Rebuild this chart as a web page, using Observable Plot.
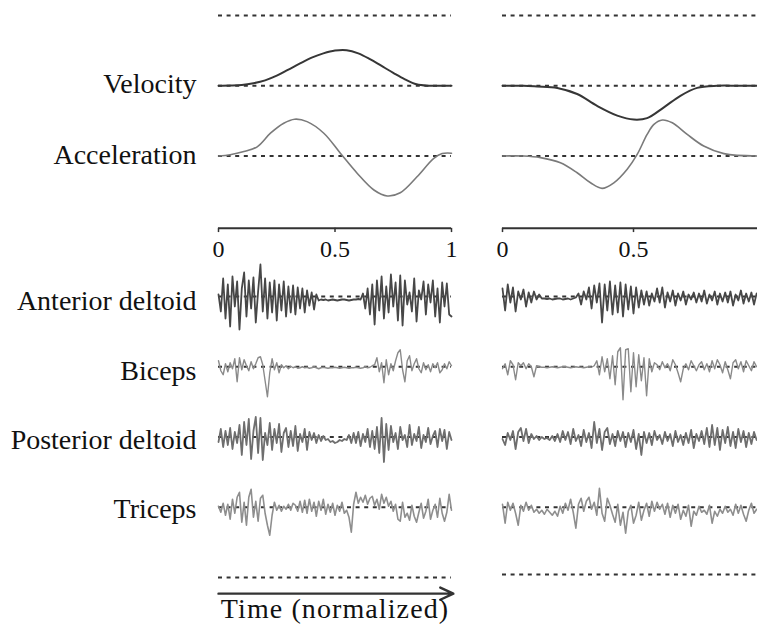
<!DOCTYPE html>
<html><head><meta charset="utf-8">
<script src="https://cdn.jsdelivr.net/npm/d3@7"></script>
<script src="https://cdn.jsdelivr.net/npm/@observablehq/plot@0.6"></script>
<style>
html,body{margin:0;padding:0;background:#fff;}
#wrap{position:relative;width:757px;height:635px;overflow:hidden;background:#fff;}
#left{position:absolute;left:0;top:0;}
#right{position:absolute;left:480px;top:0;}
</style></head><body><div id="wrap"><div id="left"></div><div id="right"></div></div>
<script>
// ---------- text ----------
const rowNames = ["Velocity", "Acceleration", "Anterior deltoid", "Biceps", "Posterior deltoid", "Triceps"];
const xLabel = "Time (normalized)";
const ticksLeft = [0, 0.5, 1];
const tickLabelsLeft = ["0", "0.5", "1"];
const ticksRight = [0, 0.5];
const tickLabelsRight = ["0", "0.5"];

// ---------- kinematics (normalized) ----------
const velLeftT = [0,0.05,0.1,0.15,0.2,0.25,0.3,0.35,0.4,0.45,0.5,0.55,0.6,0.65,0.7,0.75,0.8,0.85,0.9,0.95,1];
const velLeftV = [0,0.005,0.02,0.07,0.15,0.28,0.45,0.62,0.78,0.9,0.98,0.99,0.9,0.74,0.55,0.36,0.18,0.04,0,0,0];
const accLeftT = [0,0.05,0.109,0.166,0.223,0.28,0.327,0.38,0.452,0.523,0.595,0.667,0.724,0.78,0.852,0.924,0.96,1];
const accLeftV = [0,0.03,0.11,0.23,0.57,0.82,0.92,0.86,0.57,0.07,-0.43,-0.85,-1.0,-0.92,-0.52,-0.06,0.06,0.07];
const velRightT = [0,0.08,0.132,0.209,0.285,0.361,0.438,0.501,0.552,0.616,0.679,0.743,0.819,0.9,0.975];
const velRightV = [0,0,-0.02,-0.06,-0.23,-0.56,-0.83,-0.94,-0.9,-0.6,-0.28,-0.06,0,0,0];
const accRightT = [0,0.081,0.145,0.221,0.285,0.336,0.38,0.425,0.476,0.514,0.552,0.578,0.61,0.648,0.705,0.768,0.845,0.975];
const accRightV = [0,0,-0.04,-0.17,-0.42,-0.67,-0.81,-0.67,-0.33,0.04,0.54,0.79,0.9,0.83,0.54,0.25,0.06,0];

// ---------- EMG (sampled every 0.01 of normalized time) ----------
const emgStep = 0.01;
const adLeft = [0.2,-1.5,1.8,-2.2,1.2,-3.0,2.0,-1.0,1.5,-3.3, 0.8,2.4,-2.0,1.6,-1.2,1.9,-2.6,0.5,3.2,-1.5,
  1.8,-2.2,1.4,-1.6,1.6,-2.4,1.2,-1.4,1.5,-2.0, 1.0,-1.6,1.1,-1.8,0.9,-1.2,0.8,-1.6,0.6,-0.9,
  0.4,-1.3,0.2,-0.4,-0.3,-0.35,-0.3,-0.4,-0.35,-0.3, -0.35,-0.4,-0.35,-0.3,-0.3,-0.35,-0.4,-0.35,-0.3,-0.3,
  -0.25,-0.3,0.3,-1.2,0.8,-1.8,1.2,-2.8,1.6,-1.4, 2.0,-2.2,1.0,-1.6,2.2,-1.0,1.4,-2.4,2.1,-2.9,
  1.6,-0.8,0.4,-1.5,1.8,-2.5,0.6,-0.3,1.5,-1.8, 1.2,-0.6,1.6,-2.0,0.8,-2.6,1.4,-1.0,1.3,-1.8, -2.0];
const bicLeft = [0.6,-0.4,-0.8,0.3,-0.5,0.4,-0.2,0.8,-1.5,0.9, -0.3,0.7,0.1,-0.4,0.5,-0.2,0.3,0.9,1.0,0.2,
  -1.4,-3.0,-0.6,0.8,-0.3,0.4,-0.6,0.2,-0.1,0.1, -0.2,0.05,-0.1,0,-0.15,-0.1,0,-0.1,-0.05,-0.15,
  -0.1,0,-0.1,-0.2,-0.1,-0.05,-0.1,-0.15,-0.1,-0.1, -0.05,-0.1,-0.15,-0.1,-0.05,-0.1,-0.15,-0.1,-0.1,-0.05,
  -0.1,-0.15,-0.1,0,-0.1,-0.05,0.1,0.2,0.9,-0.5, 0.4,-1.6,0.7,-0.8,0.3,-0.4,0.6,1.4,1.7,-0.3,
  -1.5,0.6,1.1,-0.4,0.3,0.8,-0.2,-0.6,0.4,-0.3, 0.2,-0.5,0.3,-0.1,0.4,-0.6,-0.3,0.3,-0.2,0.5, 0.1];
const pdLeft = [-0.5,0.8,-1.0,0.6,-0.8,0.9,-1.2,0.5,-0.6,1.2, -1.8,1.5,-0.8,1.8,-2.2,0.6,2.0,-1.6,1.9,-2.3,
  0.4,-0.8,1.4,-1.3,0.8,-0.6,1.3,-1.5,0.4,0.9, -1.0,0.6,-0.9,1.1,-1.4,0.3,-0.5,0.8,-1.3,0.5,
  -0.3,0.4,-0.6,0.2,-0.4,0.1,-0.3,-0.2,-0.5,-0.4, -0.6,-0.5,-0.3,-0.4,-0.2,-0.3,0.2,-0.6,0.4,-0.6,
  0.5,-0.9,0.3,-0.5,0.8,-1.0,0.6,-1.2,1.0,-1.6, 1.9,-2.5,1.3,-1.3,1.1,-0.5,0.4,-1.2,1.0,-0.3,
  0.2,-1.0,1.2,-0.8,0.3,-0.4,1.0,-1.1,0.2,-0.5, 0.9,-0.7,0.1,0.6,-1.0,0.8,-0.4,0.7,-1.2,0.5, -0.3];
const triLeft = [0.1,-0.5,0.4,-0.8,0.3,-1.2,0.8,-0.6,1.0,1.5, -1.5,0.5,-1.8,1.0,1.8,-1.0,0.6,-1.4,0.9,1.2,
  -0.6,-1.8,-2.8,-0.8,0.5,-0.3,0.2,-0.4,0.1,-0.2, 0.3,-0.3,0.4,0.2,-0.4,0.6,-0.5,0.7,-0.6,0.8,
  -0.4,0.5,-0.9,0.6,-0.3,0.8,-0.7,0.3,-0.5,0.4, -0.8,0.2,-0.4,0.5,-0.6,-0.3,-1.0,-2.5,0.3,1.5,
  0.4,1.0,0.5,1.2,0.3,0.9,1.1,0.2,0.8,-0.2, 1.3,0.4,1.0,0.1,0.6,-0.4,0.3,-1.2,-1.4,0.5,
  -1.0,-0.6,-1.3,0.2,-0.9,-1.5,-0.5,0.4,-1.1,-0.4, 0.8,-1.2,-0.3,0.3,-1.0,0.9,-0.6,-1.4,-0.5,1.3, -0.3];
const adRight = [0.8,-1.4,1.2,-0.6,0.9,-1.5,0.5,-0.3,0.7,-1.0, 0.4,-0.6,0.5,-0.3,0.2,-0.2,-0.2,-0.25,-0.2,-0.3,
  -0.25,-0.2,-0.2,-0.3,-0.25,-0.2,-0.3,-0.2,-0.1,0.3, -0.8,0.5,-0.3,0.9,-1.2,1.1,-0.6,1.3,-2.6,1.2,
  -1.4,1.5,-1.8,1.1,-1.6,1.4,-2.0,1.2,-1.3,1.0, -1.7,0.9,-1.1,0.6,-0.8,0.5,-0.9,0.3,-0.5,0.8,
  -0.6,0.9,-1.1,0.4,-0.5,0.6,-0.9,0.3,-0.4,0.5, -0.8,0.2,-0.3,0.4,-0.6,0.3,-0.5,0.6,-0.7,0.2,
  -0.4,0.5,-0.8,0.3,-0.5,0.4,-0.6,0.5,-0.9,0.2, -0.4,0.6,-0.7,0.3,-0.5,0.4,-0.8,0.3];
const bicRight = [-0.2,0.3,-0.8,0.6,0.2,-1.3,0.4,0.1,0.4,-0.2, 0.3,0.0,-1.0,0.1,0,-0.05,-0.05,-0.1,-0.05,0,
  -0.05,-0.1,-0.05,0,0,-0.05,-0.1,-0.05,0,-0.05, -0.05,-0.1,-0.05,0,-0.05,0.1,0.6,-0.8,1.0,-0.5,
  0.8,-1.2,1.1,-1.8,1.5,1.9,-3.3,1.7,1.8,-2.5, 1.4,-2.0,1.2,-1.4,0.9,-2.9,0.8,-0.5,0.4,0.2,
  -0.3,0.5,-0.1,0.3,-0.4,0.7,0.2,-0.6,-1.5,-0.2, 0.3,-0.3,0.6,0.1,-0.4,0.2,0.5,-0.3,0.3,-0.5,
  0.6,-0.2,0.7,0.2,-0.6,0.5,-0.3,-1.2,0.4,0.7, -0.2,0.5,-0.5,0.6,0.1,-0.4,0.5,0.0];
const pdRight = [-0.2,-0.8,0.4,-0.3,0.6,-1.2,0.5,0.9,-0.4,0.8, -0.6,0.3,-0.2,0.1,-0.3,0.0,-0.2,-0.1,-0.3,0.1,
  -0.4,0.3,-0.5,0.6,-0.3,0.5,-0.7,0.8,-0.4,0.2, -0.9,0.7,-0.5,0.4,-1.1,1.5,-0.6,0.8,-1.3,0.5,
  0.9,-0.7,0.3,-0.9,0.6,-0.4,0.5,-1.0,0.4,-0.5, 0.7,-1.2,0.3,-1.8,0.5,-0.6,0.4,-0.8,0.6,-0.3,
  0.2,-0.7,0.5,-0.4,0.3,-0.9,0.6,-0.5,0.2,-0.8, 0.4,-0.6,0.7,-1.1,0.3,-0.4,0.6,-0.7,0.9,-1.0,
  1.2,-0.8,0.9,-1.3,0.7,-0.6,1.0,-0.9,0.5,-1.1, 0.8,-0.5,0.6,-1.0,0.4,-0.7,0.5,-0.3];
const triRight = [0.3,-1.6,0.5,-0.3,0.4,-0.6,-1.8,0.2,-0.4,0.5, -0.3,0.2,-0.5,-0.2,-0.6,-0.3,-0.7,-0.2,-0.5,-0.8,
  -0.4,-0.9,0.1,-0.6,0.4,-0.3,0.8,-0.5,-2.1,0.3, 0.9,-0.4,0.6,1.0,-0.2,0.5,-0.8,1.9,-0.6,-1.4,
  0.9,0.2,-0.7,-1.5,0.3,-1.8,-0.5,-2.6,-0.4,0.2, -1.6,-0.8,0.5,-1.3,-0.3,0.4,-0.9,0.6,-0.4,0.5,
  -0.2,0.3,-0.7,0.4,-1.0,0.2,-0.6,0.3,-1.2,-0.3, -0.9,0.2,-1.9,-0.4,-0.8,0.1,-0.5,-0.3,-0.7,0.2,
  -1.6,-0.4,-0.9,-0.2,-0.6,0.1,-0.5,-0.2,-0.8,0.3, -0.6,0.2,-0.7,-1.4,-0.3,0.4,-0.6,-0.2];

// ---------- layout & style ----------
const ROW = {top: 0, vel: 1, acc: 2, axis: 3.03, emg: [4, 5, 6, 7], bottom: 8, arrow: 8.23, timeLabel: 8.445};
const LABEL_ROWS = [0.97, 1.98, 4.07, 5.06, 6.05, 7.03];
const GAIN = {vel: 0.512, acc: 0.569, emg: 0.1423};
const EMG_COLORS = ["#474747", "#8a8a8a", "#6e6e6e", "#8e8e8e"];
const EMG_WIDTHS = [1.8, 1.4, 1.8, 1.6];
const DOT = {stroke: "#333", strokeWidth: 1.8, strokeDasharray: "4,4.6"};
const FONT = "Liberation Serif";

function panel({w, xRange, xEnd, ticks, tickLabels, vel, acc, emg, bottomRow, showLabels}) {
  const marks = [];
  marks.push(Plot.ruleY([ROW.top, ROW.vel, ROW.acc, ...ROW.emg, bottomRow], {y: d => d, x1: 0, x2: xEnd, ...DOT}));
  marks.push(Plot.line(vel.v, {x: (d, i) => vel.t[i], y: d => ROW.vel - d * GAIN.vel, curve: "catmull-rom", stroke: "#363636", strokeWidth: 2}));
  marks.push(Plot.line(acc.v, {x: (d, i) => acc.t[i], y: d => ROW.acc - d * GAIN.acc, curve: "catmull-rom", stroke: "#7a7a7a", strokeWidth: 1.6}));
  marks.push(Plot.ruleY([ROW.axis], {y: d => d, x1: 0, x2: xEnd, stroke: "#333", strokeWidth: 2}));
  marks.push(Plot.ruleX(ticks, {x: d => d, y1: ROW.axis, y2: ROW.axis + 0.06, stroke: "#333", strokeWidth: 1.5}));
  marks.push(Plot.text(ticks, {x: d => d, y: ROW.axis, text: (d, i) => tickLabels[i], lineAnchor: "top", dy: 12, fontSize: 24, fontFamily: FONT, fill: "#111"}));
  emg.forEach((series, k) => {
    marks.push(Plot.line(series, {x: (d, i) => i * emgStep, y: d => ROW.emg[k] - d * GAIN.emg, stroke: EMG_COLORS[k], strokeWidth: EMG_WIDTHS[k]}));
  });
  if (showLabels) {
    marks.push(Plot.text(rowNames, {x: 0, y: (d, i) => LABEL_ROWS[i], text: d => d, textAnchor: "end", dx: -22, fontSize: 28, fontFamily: FONT, fill: "#111"}));
    marks.push(Plot.arrow([ROW.arrow], {x1: 0, x2: 1.008, y1: d => d, y2: d => d, stroke: "#333", strokeWidth: 2.4, headLength: 9, headAngle: 50}));
    marks.push(Plot.text([xLabel], {x: 0.5, y: ROW.timeLabel, text: d => d, fontSize: 28, fontFamily: FONT, fill: "#111"}));
  }
  return Plot.plot({
    width: w, height: 635, margin: 0,
    x: {domain: [0, 1], range: xRange, axis: null},
    y: {domain: [0, 8], range: [15, 577], axis: null},
    style: {background: "transparent", overflow: "visible"},
    marks
  });
}

const leftSvg = panel({
  w: 480, xRange: [218, 451], xEnd: 1, ticks: ticksLeft, tickLabels: tickLabelsLeft,
  vel: {t: velLeftT, v: velLeftV}, acc: {t: accLeftT, v: accLeftV},
  emg: [adLeft, bicLeft, pdLeft, triLeft], bottomRow: ROW.bottom, showLabels: true
});
d3.select(leftSvg).selectAll("text").filter(function () { return this.textContent === xLabel; }).attr("letter-spacing", 1.1);
document.getElementById("left").append(leftSvg);
document.getElementById("right").append(panel({
  w: 277, xRange: [22, 284], xEnd: 0.975, ticks: ticksRight, tickLabels: tickLabelsRight,
  vel: {t: velRightT, v: velRightV}, acc: {t: accRightT, v: accRightV},
  emg: [adRight, bicRight, pdRight, triRight], bottomRow: 7.957, showLabels: false
}));
</script></body></html>
